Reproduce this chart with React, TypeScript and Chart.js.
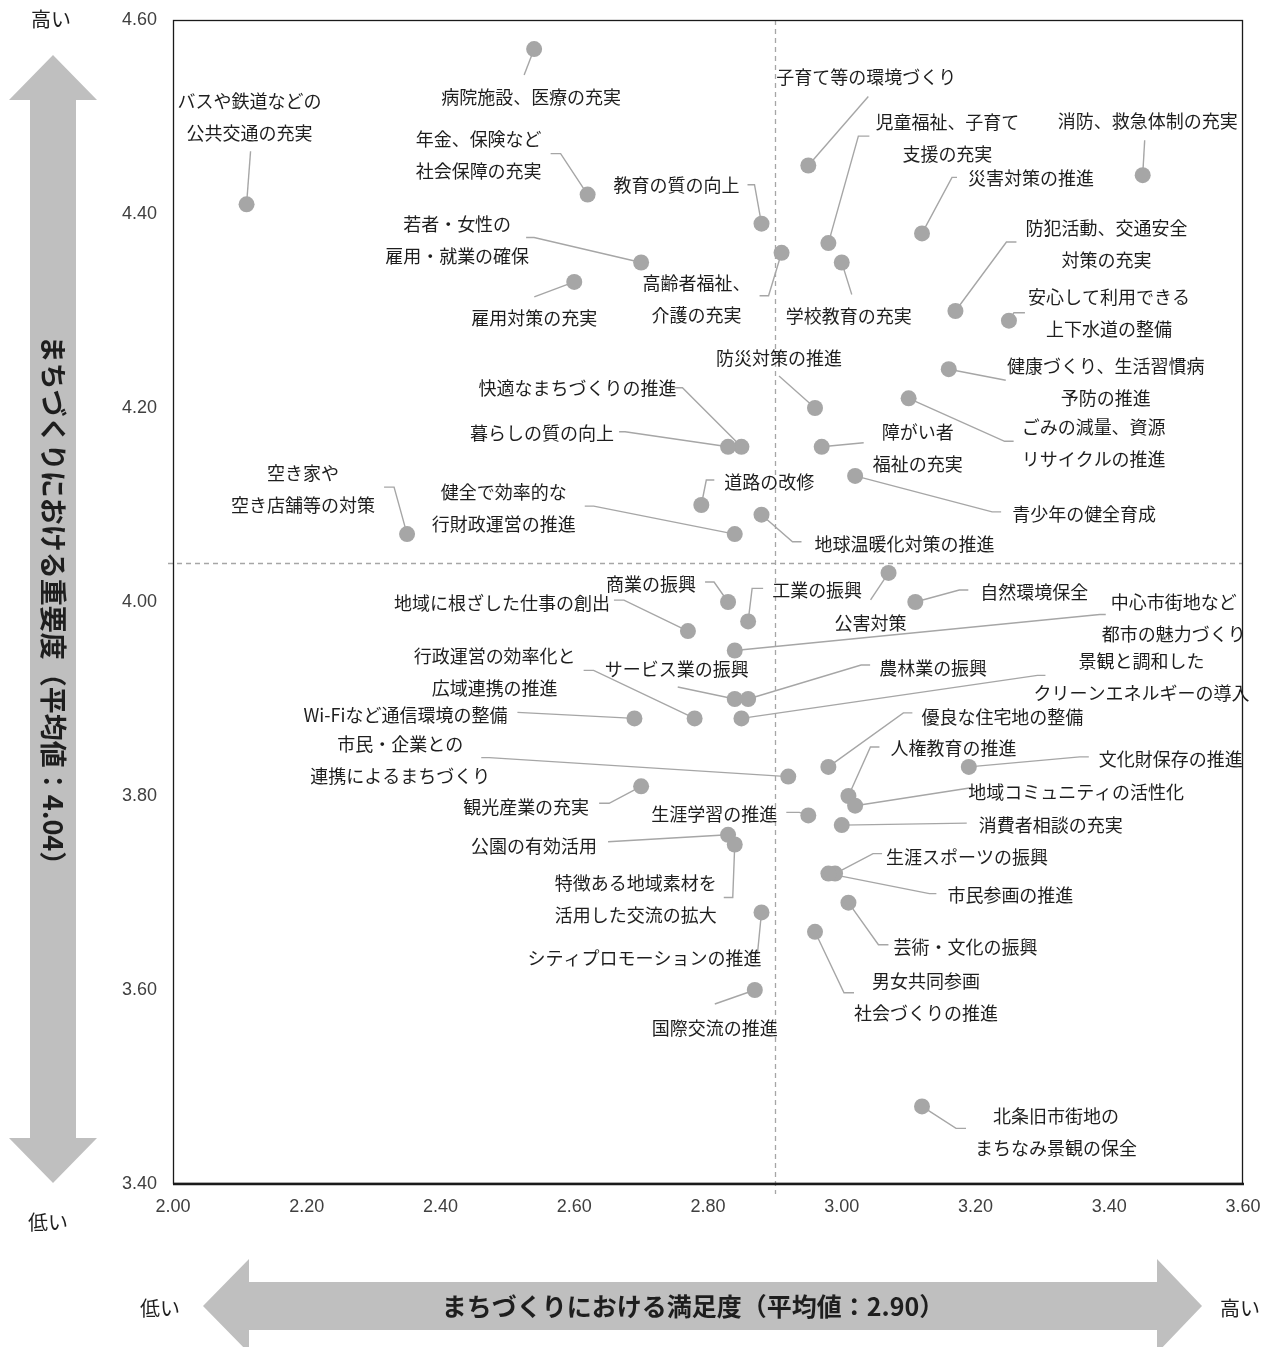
import React, { useEffect, useRef } from 'react';
import { Chart, registerables } from 'chart.js';

Chart.register(...registerables);

// ---------------- data ----------------
const ITEMS: string[] = [
  'バスや鉄道などの\n公共交通の充実',
  '病院施設、医療の充実',
  '年金、保険など\n社会保障の充実',
  '教育の質の向上',
  '子育て等の環境づくり',
  '児童福祉、子育て\n支援の充実',
  '学校教育の充実',
  '高齢者福祉、\n介護の充実',
  '若者・女性の\n雇用・就業の確保',
  '雇用対策の充実',
  '消防、救急体制の充実',
  '災害対策の推進',
  '防犯活動、交通安全\n対策の充実',
  '安心して利用できる\n上下水道の整備',
  '健康づくり、生活習慣病\n予防の推進',
  'ごみの減量、資源\nリサイクルの推進',
  '防災対策の推進',
  '快適なまちづくりの推進',
  '暮らしの質の向上',
  '障がい者\n福祉の充実',
  '青少年の健全育成',
  '道路の改修',
  '健全で効率的な\n行財政運営の推進',
  '地球温暖化対策の推進',
  '空き家や\n空き店舗等の対策',
  '公害対策',
  '商業の振興',
  '工業の振興',
  '自然環境保全',
  '地域に根ざした仕事の創出',
  '中心市街地など\n都市の魅力づくり',
  'サービス業の振興',
  '農林業の振興',
  '行政運営の効率化と\n広域連携の推進',
  'Wi-Fiなど通信環境の整備',
  '景観と調和した\nクリーンエネルギーの導入',
  '優良な住宅地の整備',
  '市民・企業との\n連携によるまちづくり',
  '人権教育の推進',
  '文化財保存の推進',
  '地域コミュニティの活性化',
  '観光産業の充実',
  '生涯学習の推進',
  '消費者相談の充実',
  '公園の有効活用',
  '特徴ある地域素材を\n活用した交流の拡大',
  '生涯スポーツの振興',
  '市民参画の推進',
  '芸術・文化の振興',
  '男女共同参画\n社会づくりの推進',
  'シティプロモーションの推進',
  '国際交流の推進',
  '北条旧市街地の\nまちなみ景観の保全',
];

// 満足度 (x)
const SATISFACTION: number[] = [
  2.11, 2.54, 2.62, 2.88, 2.95, 2.98, 3.00, 2.91, 2.70, 2.60,
  3.45, 3.12, 3.17, 3.25, 3.16, 3.10, 2.96, 2.85, 2.83, 2.97,
  3.02, 2.79, 2.84, 2.88, 2.35, 3.07, 2.83, 2.86, 3.11, 2.77,
  2.84, 2.84, 2.86, 2.78, 2.69, 2.85, 2.98, 2.92, 3.01, 3.19,
  3.02, 2.70, 2.95, 3.00, 2.83, 2.84, 2.99, 2.98, 3.01, 2.96,
  2.88, 2.87, 3.12,
];

// 重要度 (y)
const IMPORTANCE: number[] = [
  4.41, 4.57, 4.42, 4.39, 4.45, 4.37, 4.35, 4.36, 4.35, 4.33,
  4.44, 4.38, 4.30, 4.29, 4.24, 4.21, 4.20, 4.16, 4.16, 4.16,
  4.13, 4.10, 4.07, 4.09, 4.07, 4.03, 4.00, 3.98, 4.00, 3.97,
  3.95, 3.90, 3.90, 3.88, 3.88, 3.88, 3.83, 3.82, 3.80, 3.83,
  3.79, 3.81, 3.78, 3.77, 3.76, 3.75, 3.72, 3.72, 3.69, 3.66,
  3.68, 3.60, 3.48,
];

const MEAN_SATISFACTION = 2.9;
const MEAN_IMPORTANCE = 4.04;
const X_MIN = 2.0, X_MAX = 3.6, X_STEP = 0.2;
const Y_MIN = 3.4, Y_MAX = 4.6, Y_STEP = 0.2;
const X_TITLE = 'まちづくりにおける満足度（平均値：2.90）';
const Y_TITLE = 'まちづくりにおける重要度（平均値：4.04）';
const HIGH = '高い';
const LOW = '低い';

// ---------------- label layout (pixel offsets from each point) ----------------
// [labelCenterDx, labelCenterDy, leader path points]
type Layout = [number, number, [number, number][]];
const LABEL_LAYOUT: Layout[] = [
  [3, -87, [[4, -53]]],
  [-3, 48, [[-10, 26]]],
  [-109, -39, [[-27, -41], [-37, -41]]],
  [-85, -39, [[-7, -39], [-14, -39]]],
  [58, -88, [[60, -69]]],
  [119, -105, [[30, -107], [41, -107]]],
  [7, 54, [[10, 32]]],
  [-85, 46, [[-13, 43], [-22, 43]]],
  [-184, -22, [[-107, -25], [-115, -25]]],
  [-40, 36, [[-40, 15]]],
  [5, -54, [[2, -35]]],
  [109, -55, [[30, -56], [35, -56]]],
  [151, -67, [[51, -69], [61, -69]]],
  [100, -8, [[5, -8], [16, -8]]],
  [157, 13, [[57, 11]]],
  [185, 45, [[96, 43], [105, 43]]],
  [-36, -50, [[-36, -32]]],
  [-164, -59, [[-59, -59], [-70, -59]]],
  [-186, -14, [[-103, -15], [-109, -15]]],
  [96, 1, [[42, -4]]],
  [229, 38, [[137, 36], [146, 36]]],
  [68, -23, [[5, -25], [13, -25]]],
  [-231, -26, [[-141, -28], [-150, -28]]],
  [143, 29, [[31, 27], [40, 27]]],
  [-104, -45, [[-13, -47], [-23, -47]]],
  [-18, 50, [[-18, 27]]],
  [-77, -18, [[-14, -20], [-23, -20]]],
  [69, -31, [[4, -33], [15, -33]]],
  [119, -10, [[44, -12], [53, -12]]],
  [-186, -28, [[-64, -31], [-74, -31]]],
  [439, -32, [[365, -36], [371, -36]]],
  [-58, -30, [[-57, -12]]],
  [185, -31, [[113, -34], [122, -34]]],
  [-200, -46, [[-101, -48], [-111, -48]]],
  [-229, -3, [[-117, -6]]],
  [400, -41, [[296, -43], [304, -43]]],
  [174, -50, [[75, -54], [84, -54]]],
  [-388, -16, [[-299, -19], [-307, -19]]],
  [105, -48, [[22, -49], [31, -49]]],
  [202, -8, [[111, -10], [120, -10]]],
  [221, -14, [[116, -18]]],
  [-115, 21, [[-32, 17], [-42, 17]]],
  [-94, -1, [[-9, -3], [-22, -3]]],
  [209, 0, [[125, -2]]],
  [-194, 11, [[-120, 7]]],
  [-99, 55, [[-2, 53], [-11, 53]]],
  [132, -16, [[38, -20], [47, -20]]],
  [182, 22, [[101, 20], [108, 20]]],
  [117, 44, [[30, 42], [40, 42]]],
  [111, 65, [[29, 61], [39, 61]]],
  [-117, 46, [[-4, 41], [-13, 41]]],
  [-40, 38, [[-40, 14]]],
  [134, 26, [[34, 22], [44, 22]]],
];

const W = 1274;
const H = 1347;
const LABEL_FONT = '18px "Noto Sans CJK JP", "Noto Sans", sans-serif';
const TITLE_FONT_Y = 'bold 27px "Noto Sans CJK JP", sans-serif';
const TITLE_FONT_X = 'bold 25px "Noto Sans CJK JP", sans-serif';
const SIDE_FONT = '20px "Noto Sans CJK JP", sans-serif';
const TEXT_COLOR = '#1e1e1e';
const GRAY = '#a6a6a6';
const ARROW = '#bfbfbf';

function poly(ctx: CanvasRenderingContext2D, pts: number[][]) {
  ctx.beginPath();
  ctx.moveTo(pts[0][0], pts[0][1]);
  for (let i = 1; i < pts.length; i++) ctx.lineTo(pts[i][0], pts[i][1]);
  ctx.closePath();
  ctx.fill();
}

const decorPlugin = {
  id: 'decor',
  beforeDraw(chart: any) {
    const ctx: CanvasRenderingContext2D = chart.ctx;
    ctx.save();
    ctx.fillStyle = '#ffffff';
    ctx.fillRect(0, 0, chart.width, chart.height);
    // vertical double arrow
    ctx.fillStyle = ARROW;
    poly(ctx, [
      [53, 55], [97, 100], [76, 100], [76, 1138], [97, 1138], [53, 1183],
      [9, 1138], [30, 1138], [30, 100], [9, 100],
    ]);
    // horizontal double arrow
    poly(ctx, [
      [203, 1306], [249, 1259], [249, 1282], [1157, 1282], [1157, 1259], [1202, 1306],
      [1157, 1353], [1157, 1330], [249, 1330], [249, 1353],
    ]);
    ctx.fillStyle = TEXT_COLOR;
    ctx.textAlign = 'center';
    ctx.textBaseline = 'middle';
    ctx.font = SIDE_FONT;
    ctx.fillText(HIGH, 51, 19);
    ctx.fillText(LOW, 48, 1222);
    ctx.fillText(LOW, 160, 1308);
    ctx.fillText(HIGH, 1240, 1308);
    ctx.font = TITLE_FONT_X;
    ctx.fillText(X_TITLE, 693, 1306);
    ctx.save();
    ctx.translate(53, 607);
    ctx.rotate(Math.PI / 2);
    ctx.font = TITLE_FONT_Y;
    ctx.fillText(Y_TITLE, 0, 0);
    ctx.restore();
    ctx.restore();
  },
  beforeDatasetsDraw(chart: any) {
    const ctx: CanvasRenderingContext2D = chart.ctx;
    const { left, right, top, bottom } = chart.chartArea;
    const xs = chart.scales.x, ys = chart.scales.y;
    ctx.save();
    // mean lines
    ctx.strokeStyle = '#a6a6a6';
    ctx.lineWidth = 1.3;
    ctx.setLineDash([5, 4]);
    const mx = Math.round(xs.getPixelForValue(MEAN_SATISFACTION)) + 0.5;
    const my = Math.round(ys.getPixelForValue(MEAN_IMPORTANCE)) + 0.5;
    ctx.beginPath();
    ctx.moveTo(mx, top);
    ctx.lineTo(mx, bottom + 10);
    ctx.moveTo(left - 5, my);
    ctx.lineTo(right, my);
    ctx.stroke();
    ctx.setLineDash([]);
    // frame
    ctx.strokeStyle = '#1a1a1a';
    ctx.lineWidth = 1.3;
    ctx.strokeRect(left + 0.5, top + 0.5, right - left - 1, bottom - top - 1);
    ctx.lineWidth = 2.5;
    ctx.beginPath();
    ctx.moveTo(left, bottom);
    ctx.lineTo(right + 1, bottom);
    ctx.stroke();
    // leader lines
    ctx.strokeStyle = GRAY;
    ctx.lineWidth = 1.4;
    const meta = chart.getDatasetMeta(0);
    meta.data.forEach((pt: any, i: number) => {
      const lay = LABEL_LAYOUT[i];
      if (!lay) return;
      ctx.beginPath();
      ctx.moveTo(pt.x, pt.y);
      lay[2].forEach(([dx, dy]) => ctx.lineTo(pt.x + dx, pt.y + dy));
      ctx.stroke();
    });
    ctx.restore();
  },
  afterDatasetsDraw(chart: any) {
    const ctx: CanvasRenderingContext2D = chart.ctx;
    ctx.save();
    ctx.fillStyle = TEXT_COLOR;
    ctx.font = LABEL_FONT;
    ctx.textAlign = 'center';
    ctx.textBaseline = 'middle';
    const meta = chart.getDatasetMeta(0);
    meta.data.forEach((pt: any, i: number) => {
      const lay = LABEL_LAYOUT[i];
      if (!lay) return;
      const lines = ITEMS[i].split('\n');
      const lh = 32;
      const cx = pt.x + lay[0];
      const cy0 = pt.y + lay[1] - ((lines.length - 1) * lh) / 2;
      lines.forEach((ln, k) => ctx.fillText(ln, cx, cy0 + k * lh));
    });
    ctx.restore();
  },
};

export default function App() {
  const ref = useRef<HTMLCanvasElement | null>(null);
  useEffect(() => {
    if (!ref.current) return;
    const points = SATISFACTION.map((x, i) => ({ x, y: IMPORTANCE[i] }));
    const chart = new Chart(ref.current, {
      type: 'scatter',
      data: {
        datasets: [
          {
            label: '施策',
            data: points,
            backgroundColor: GRAY,
            borderWidth: 0,
            pointRadius: 8,
            pointHoverRadius: 8,
          },
        ],
      },
      options: {
        responsive: false,
        animation: false,
        events: [],
        layout: { padding: { left: 0, right: 31, top: 20, bottom: 123 } },
        plugins: { legend: { display: false }, tooltip: { enabled: false } },
        scales: {
          x: {
            type: 'linear',
            min: X_MIN,
            max: X_MAX,
            grid: { display: false, drawTicks: false },
            border: { display: false },
            ticks: {
              stepSize: X_STEP,
              padding: 12,
              color: '#404040',
              font: { family: '"Liberation Sans", Arial, sans-serif', size: 18 },
              callback: (v: any) => Number(v).toFixed(2),
            },
            afterFit: (s: any) => {
              s.height = 40;
              s.paddingLeft = 0;
              s.paddingRight = 0;
            },
          },
          y: {
            type: 'linear',
            min: Y_MIN,
            max: Y_MAX,
            grid: { display: false, drawTicks: false },
            border: { display: false },
            ticks: {
              stepSize: Y_STEP,
              padding: 16,
              color: '#404040',
              font: { family: '"Liberation Sans", Arial, sans-serif', size: 18 },
              callback: (v: any) => Number(v).toFixed(2),
            },
            afterFit: (s: any) => {
              s.width = 173;
              s.paddingTop = 0;
              s.paddingBottom = 0;
            },
          },
        },
      },
      plugins: [decorPlugin],
    } as any);
    return () => chart.destroy();
  }, []);
  return (
    <div style={{ position: 'absolute', left: 0, top: 0, width: W, height: H, background: '#fff' }}>
      <canvas ref={ref} width={W} height={H} style={{ display: 'block', width: W, height: H }} />
    </div>
  );
}
